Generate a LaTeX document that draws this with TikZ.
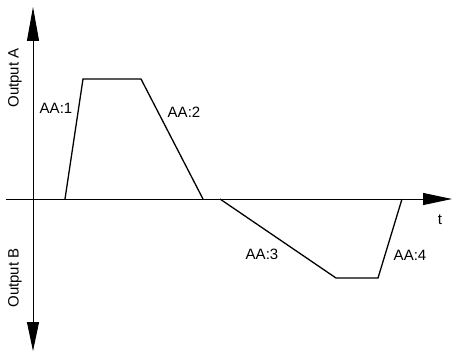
\documentclass[tikz,border=0pt]{standalone}
\usepackage{fontspec}
\setmainfont{Liberation Sans}
\usetikzlibrary{arrows.meta}
\begin{document}
\begin{tikzpicture}[x=1pt,y=-1pt,
  axis/.style={line width=0.9pt},
  wave/.style={line width=1.3pt, line join=miter},
  lbl/.style={font=\fontsize{15}{18}\selectfont, inner sep=0pt}]
\useasboundingbox (0,0) rectangle (452,353);
\coordinate (origin) at (33,199);
\coordinate (ytop) at (33,7);
\coordinate (ybot) at (33,351);
\coordinate (xleft) at (6,199);
\coordinate (xright) at (452,199);
\draw[axis,-{Triangle[length=34pt,width=12pt]}] (origin) -- (ytop);
\draw[axis,-{Triangle[length=29pt,width=12pt]}] (origin) -- (ybot);
\draw[axis,-{Triangle[length=29pt,width=12pt]}] (xleft) -- (xright);
\coordinate (p1) at (65,199);
\coordinate (p2) at (83,79);
\coordinate (p3) at (141,79);
\coordinate (p4) at (203,199);
\coordinate (q1) at (220,199);
\coordinate (q2) at (336,278);
\coordinate (q3) at (378,278);
\coordinate (q4) at (402,199);
\draw[wave] (p1) -- (p2) -- (p3) -- (p4);
\draw[wave] (q1) -- (q2) -- (q3) -- (q4);
\node[lbl, rotate=90] (outa) at (15,78) {Output A};
\node[lbl, rotate=90] (outb) at (15,278) {Output B};
\node[lbl] (aa1) at (56,108) {AA:1};
\node[lbl] (aa2) at (184,112) {AA:2};
\node[lbl] (aa3) at (262,254) {AA:3};
\node[lbl] (aa4) at (410,255) {AA:4};
\node[lbl] (t) at (440,220) {t};
\end{tikzpicture}
\end{document}
